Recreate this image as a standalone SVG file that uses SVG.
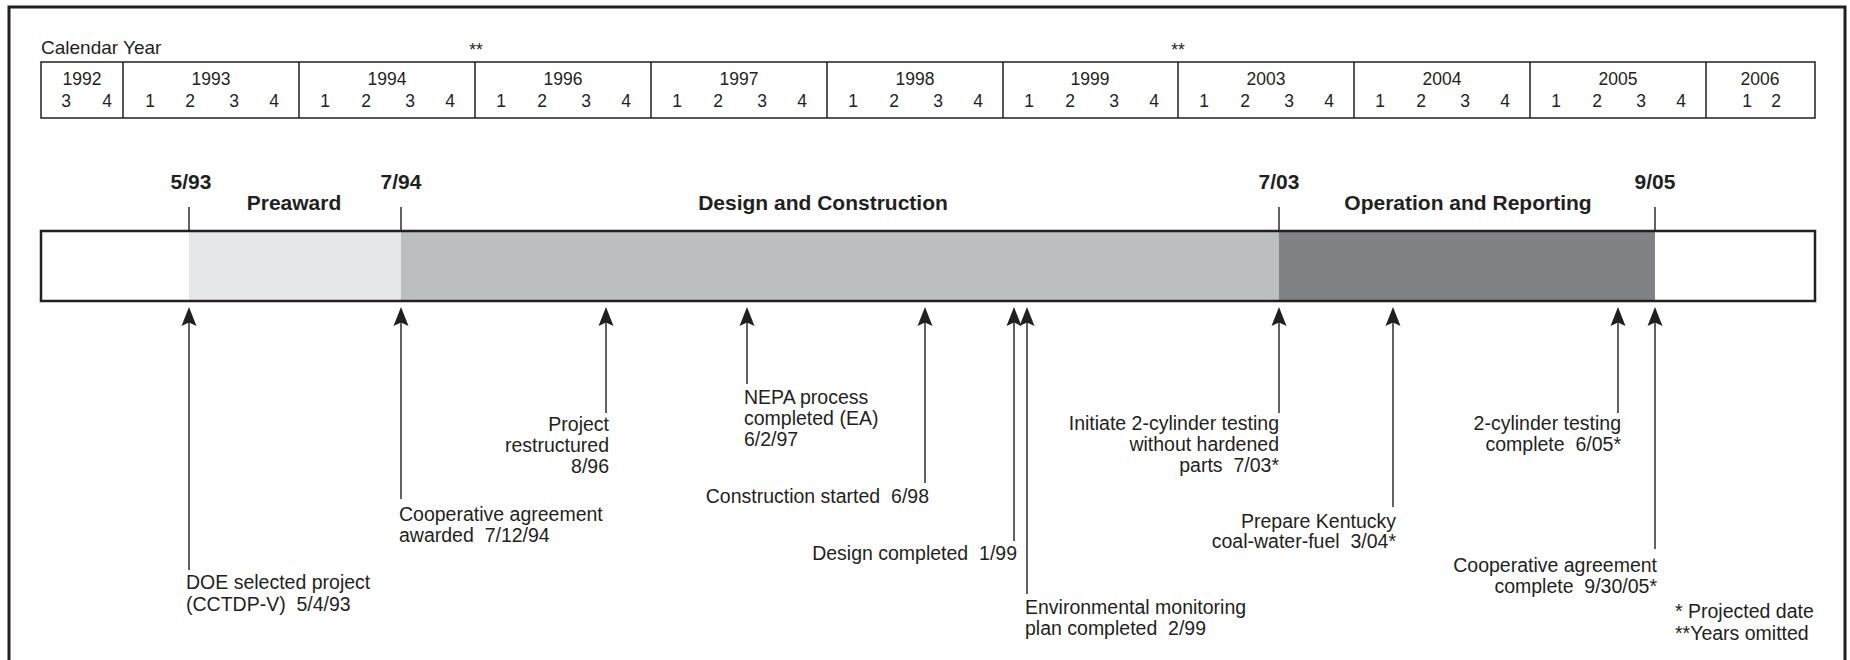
<svg xmlns="http://www.w3.org/2000/svg" width="1850" height="660" viewBox="0 0 1850 660" xml:space="preserve">
<style>
text{font-family:"Liberation Sans",Arial,sans-serif;fill:#231f20;white-space:pre}
.cal{font-size:17.5px;text-anchor:middle}
.lbl{font-size:19.5px}
.end{text-anchor:end}
.bold{font-size:21px;font-weight:bold;text-anchor:middle}
.grid{fill:none;stroke:#231f20;stroke-width:1.5}
.conn{stroke:#231f20;stroke-width:1.4;fill:none}
</style>
<defs>
<path id="ah" d="M0,0 L7.5,19 L0,15.5 L-7.5,19 Z" fill="#231f20"/>
</defs>
<rect x="9" y="7" width="1836" height="700" fill="#fff" stroke="#231f20" stroke-width="3"/>

<g id="calendar">
<text x="41" y="54" style="font-size:19px">Calendar Year</text>
<text x="476" y="56" class="cal">**</text>
<text x="1178" y="56" class="cal">**</text>
<rect x="41" y="62" width="1774" height="56" class="grid"/>
<path class="grid" d="M123,62V118M299,62V118M475,62V118M651,62V118M827,62V118M1003,62V118M1178,62V118M1354,62V118M1530,62V118M1706,62V118"/>
<text x="82" y="85" class="cal">1992</text>
<text x="66" y="107" class="cal">3</text><text x="107" y="107" class="cal">4</text>
<text x="211" y="85" class="cal">1993</text>
<text x="150" y="107" class="cal">1</text><text x="190" y="107" class="cal">2</text><text x="234" y="107" class="cal">3</text><text x="274" y="107" class="cal">4</text>
<text x="387" y="85" class="cal">1994</text>
<text x="325" y="107" class="cal">1</text><text x="366" y="107" class="cal">2</text><text x="410" y="107" class="cal">3</text><text x="450" y="107" class="cal">4</text>
<text x="563" y="85" class="cal">1996</text>
<text x="501" y="107" class="cal">1</text><text x="542" y="107" class="cal">2</text><text x="586" y="107" class="cal">3</text><text x="626" y="107" class="cal">4</text>
<text x="739" y="85" class="cal">1997</text>
<text x="677" y="107" class="cal">1</text><text x="718" y="107" class="cal">2</text><text x="762" y="107" class="cal">3</text><text x="802" y="107" class="cal">4</text>
<text x="915" y="85" class="cal">1998</text>
<text x="853" y="107" class="cal">1</text><text x="894" y="107" class="cal">2</text><text x="938" y="107" class="cal">3</text><text x="978" y="107" class="cal">4</text>
<text x="1090" y="85" class="cal">1999</text>
<text x="1029" y="107" class="cal">1</text><text x="1070" y="107" class="cal">2</text><text x="1114" y="107" class="cal">3</text><text x="1154" y="107" class="cal">4</text>
<text x="1266" y="85" class="cal">2003</text>
<text x="1204" y="107" class="cal">1</text><text x="1245" y="107" class="cal">2</text><text x="1289" y="107" class="cal">3</text><text x="1329" y="107" class="cal">4</text>
<text x="1442" y="85" class="cal">2004</text>
<text x="1380" y="107" class="cal">1</text><text x="1421" y="107" class="cal">2</text><text x="1465" y="107" class="cal">3</text><text x="1505" y="107" class="cal">4</text>
<text x="1618" y="85" class="cal">2005</text>
<text x="1556" y="107" class="cal">1</text><text x="1597" y="107" class="cal">2</text><text x="1641" y="107" class="cal">3</text><text x="1681" y="107" class="cal">4</text>
<text x="1760" y="85" class="cal">2006</text>
<text x="1747" y="107" class="cal">1</text><text x="1776" y="107" class="cal">2</text>
</g>

<g id="timeline-bar">
<rect x="189" y="231" width="212" height="70" fill="#e6e7e8"/>
<rect x="401" y="231" width="878" height="70" fill="#bcbec0"/>
<rect x="1279" y="231" width="376" height="70" fill="#808285"/>
<rect x="41" y="231" width="1774" height="70" fill="none" stroke="#231f20" stroke-width="2.5"/>
</g>

<g id="phases">
<text x="191" y="189" class="bold">5/93</text>
<text x="401" y="189" class="bold">7/94</text>
<text x="1279" y="189" class="bold">7/03</text>
<text x="1655" y="189" class="bold">9/05</text>
<text x="294" y="210" class="bold">Preaward</text>
<text x="823" y="210" class="bold">Design and Construction</text>
<text x="1468" y="210" class="bold">Operation and Reporting</text>
</g>

<g id="connectors">
<path class="conn" d="M189,207V231M401,207V231M1279,207V231M1655,207V231"/>
<path class="conn" d="M189,320V570M401,320V499M606,320V413M747,320V384M925,320V483M1014,320V541M1027,320V594M1279,320V413M1393,320V507M1618,320V413M1655,320V549"/>
<use href="#ah" x="189" y="307"/>
<use href="#ah" x="401" y="307"/>
<use href="#ah" x="606" y="307"/>
<use href="#ah" x="747" y="307"/>
<use href="#ah" x="925" y="307"/>
<use href="#ah" x="1014" y="307"/>
<use href="#ah" x="1027" y="307"/>
<use href="#ah" x="1279" y="307"/>
<use href="#ah" x="1393" y="307"/>
<use href="#ah" x="1618" y="307"/>
<use href="#ah" x="1655" y="307"/>
</g>

<g id="n-doe"><text class="lbl" x="186" y="589">DOE selected project</text><text class="lbl" x="186" y="611">(CCTDP-V)  5/4/93</text></g>
<g id="n-coop-awarded"><text class="lbl" x="399" y="521">Cooperative agreement</text><text class="lbl" x="399" y="542">awarded  7/12/94</text></g>
<g id="n-restructured"><text class="lbl end" x="609" y="431">Project</text><text class="lbl end" x="609" y="452">restructured</text><text class="lbl end" x="609" y="473">8/96</text></g>
<g id="n-nepa"><text class="lbl" x="744" y="404">NEPA process</text><text class="lbl" x="744" y="425">completed (EA)</text><text class="lbl" x="744" y="446">6/2/97</text></g>
<g id="n-construction"><text class="lbl end" x="929" y="503">Construction started  6/98</text></g>
<g id="n-design"><text class="lbl end" x="1017" y="560">Design completed  1/99</text></g>
<g id="n-env"><text class="lbl" x="1025" y="614">Environmental monitoring</text><text class="lbl" x="1025" y="635">plan completed  2/99</text></g>
<g id="n-initiate"><text class="lbl end" x="1279" y="430">Initiate 2-cylinder testing</text><text class="lbl end" x="1279" y="451">without hardened</text><text class="lbl end" x="1279" y="472">parts  7/03*</text></g>
<g id="n-kentucky"><text class="lbl end" x="1396" y="528">Prepare Kentucky</text><text class="lbl end" x="1396" y="548">coal-water-fuel  3/04*</text></g>
<g id="n-2cyl"><text class="lbl end" x="1621" y="430">2-cylinder testing</text><text class="lbl end" x="1621" y="451">complete  6/05*</text></g>
<g id="n-coop-complete"><text class="lbl end" x="1657" y="572">Cooperative agreement</text><text class="lbl end" x="1657" y="593">complete  9/30/05*</text></g>
<g id="legend"><text class="lbl" x="1675" y="618">* Projected date</text><text class="lbl" x="1675" y="640">**Years omitted</text></g>
</svg>
